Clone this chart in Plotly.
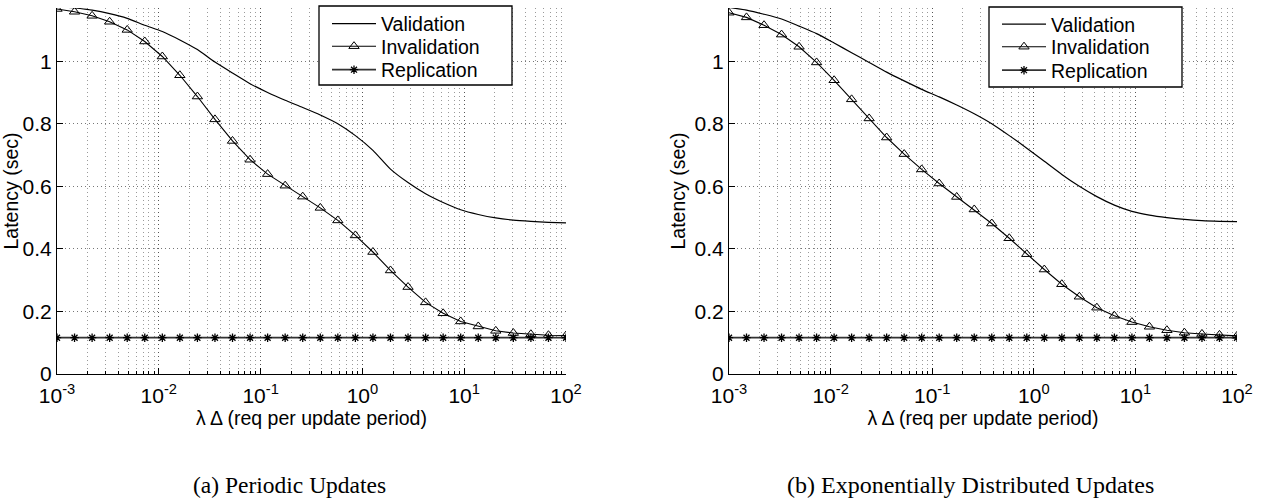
import plotly.graph_objects as go

# ---------------- data ----------------
x_req = [0.001, 0.001487, 0.002212, 0.00329, 0.004894, 0.007279, 0.01083, 0.0161,
         0.02395, 0.03562, 0.05298, 0.0788, 0.1172, 0.1743, 0.2593, 0.3857,
         0.5736, 0.8532, 1.269, 1.887, 2.807, 4.175, 6.21, 9.237, 13.74,
         20.43, 30.39, 45.2, 67.23, 100.0]

# (a) Periodic updates
val_a = [1.175, 1.170, 1.163, 1.152, 1.137, 1.115, 1.095, 1.068, 1.037, 0.997,
         0.962, 0.928, 0.900, 0.875, 0.852, 0.828, 0.800, 0.762, 0.715, 0.655,
         0.612, 0.576, 0.548, 0.525, 0.510, 0.499, 0.492, 0.488, 0.485, 0.483]
inv_a = [1.167, 1.158, 1.145, 1.126, 1.100, 1.063, 1.015, 0.955, 0.887, 0.814,
         0.745, 0.685, 0.639, 0.602, 0.567, 0.531, 0.491, 0.443, 0.390, 0.331,
         0.278, 0.229, 0.194, 0.168, 0.152, 0.138, 0.131, 0.127, 0.124, 0.123]
rep_a = [0.116] * 30

# (b) Exponentially distributed updates
val_b = [1.172, 1.163, 1.150, 1.135, 1.112, 1.088, 1.058, 1.027, 0.996, 0.965,
         0.937, 0.910, 0.886, 0.860, 0.832, 0.800, 0.762, 0.722, 0.680, 0.638,
         0.600, 0.567, 0.540, 0.520, 0.508, 0.500, 0.494, 0.490, 0.488, 0.487]
inv_b = [1.155, 1.140, 1.115, 1.085, 1.046, 0.996, 0.939, 0.878, 0.817, 0.756,
         0.703, 0.654, 0.609, 0.566, 0.526, 0.481, 0.434, 0.383, 0.334, 0.287,
         0.247, 0.212, 0.186, 0.166, 0.151, 0.140, 0.132, 0.128, 0.125, 0.122]
rep_b = [0.116] * 30

x_tick_vals = [0.001, 0.01, 0.1, 1, 10, 100]
x_tick_text = ["10<sup>-3</sup>", "10<sup>-2</sup>", "10<sup>-1</sup>",
               "10<sup>0</sup>", "10<sup>1</sup>", "10<sup>2</sup>"]
y_tick_vals = [0, 0.2, 0.4, 0.6, 0.8, 1.0]
y_tick_text = ["0", "0.2", "0.4", "0.6", "0.8", "1"]
minor_vals = [k * 10.0 ** d for d in range(-3, 2) for k in range(2, 10)]

series_names = ["Validation", "Invalidation", "Replication"]
captions = ["(a) Periodic Updates", "(b) Exponentially Distributed Updates"]
x_title = "λ Δ (req per update period)"
y_title = "Latency (sec)"

# ---------------- figure ----------------
W, H = 1265, 502
SANS = "Liberation Sans, Arial, Helvetica, sans-serif"
SERIF = "Liberation Serif, Times New Roman, serif"

fig = go.Figure()

panels = [
    (val_a, inv_a, rep_a, "x", "y", ["legend", "legend2", "legend3"]),
    (val_b, inv_b, rep_b, "x2", "y2", ["legend4", "legend5", "legend6"]),
]
for val, inv, rep, xa, ya, lgs in panels:
    fig.add_trace(go.Scatter(
        x=x_req, y=val, name=series_names[0], mode="lines",
        line=dict(color="black", width=1.2, shape="spline", smoothing=0.6),
        xaxis=xa, yaxis=ya, legend=lgs[0]))
    fig.add_trace(go.Scatter(
        x=x_req, y=inv, name=series_names[1], mode="lines+markers",
        line=dict(color="black", width=1.1),
        marker=dict(symbol="triangle-up-open", size=9, color="black",
                    line=dict(width=1, color="black")),
        xaxis=xa, yaxis=ya, legend=lgs[1]))
    fig.add_trace(go.Scatter(
        x=x_req, y=rep, name=series_names[2], mode="lines+markers",
        line=dict(color="#333333", width=1.8),
        marker=dict(symbol="asterisk-open", size=7, color="black",
                    line=dict(width=1.3, color="black")),
        xaxis=xa, yaxis=ya, legend=lgs[2]))

def xaxis_cfg(domain, anchor):
    return dict(
        type="log", domain=domain, anchor=anchor, range=[-3, 2],
        tickmode="array", tickvals=x_tick_vals, ticktext=x_tick_text,
        ticks="inside", ticklen=6, tickcolor="black", tickwidth=1,
        ticklabelstandoff=3,
        showline=True, linecolor="black", linewidth=1, mirror=False,
        showgrid=True, gridcolor="#555555", griddash="1px,3px", gridwidth=1,
        minor=dict(tickmode="array", tickvals=minor_vals, ticks="inside",
                   ticklen=3, tickcolor="black", showgrid=True,
                   gridcolor="#9a9a9a", griddash="1px,3px", gridwidth=1),
        zeroline=False, automargin=True,
        tickfont=dict(family=SANS, size=21, color="black"),
        title=dict(text=x_title, font=dict(family=SANS, size=19.5, color="black"),
                   standoff=0),
    )

def yaxis_cfg(domain, anchor):
    return dict(
        domain=domain, anchor=anchor, range=[0, 1.17],
        tickmode="array", tickvals=y_tick_vals, ticktext=y_tick_text,
        ticks="inside", ticklen=6, tickcolor="black", tickwidth=1,
        showline=True, linecolor="black", linewidth=1, mirror=False,
        showgrid=True, gridcolor="#777777", griddash="1px,3px", gridwidth=1,
        zeroline=False, automargin=True,
        tickfont=dict(family=SANS, size=21, color="black"),
        title=dict(text=y_title, font=dict(family=SANS, size=19.5, color="black"),
                   standoff=3),
    )

ydom = [128 / H, 1 - 8 / H]
fig.update_layout(
    width=W, height=H,
    margin=dict(l=0, r=0, t=0, b=0, autoexpand=False),
    paper_bgcolor="white", plot_bgcolor="white",
    showlegend=True,
    xaxis=xaxis_cfg([57 / W, 566 / W], "y"),
    yaxis=yaxis_cfg(ydom, "x"),
    xaxis2=xaxis_cfg([729 / W, 1237 / W], "y2"),
    yaxis2=yaxis_cfg(ydom, "x2"),
)

# legend frames (px): left, top, right, bottom
legend_boxes = [(319, 6, 512, 85), (989, 7, 1182, 87)]
for (x0, y0, x1, y1) in legend_boxes:
    fig.add_shape(type="rect", xref="paper", yref="paper",
                  x0=x0 / W, x1=x1 / W, y0=1 - y0 / H, y1=1 - y1 / H,
                  line=dict(color="black", width=1.3), fillcolor="white",
                  layer="above")

legend_common = dict(
    bgcolor="rgba(0,0,0,0)", borderwidth=0,
    font=dict(family=SANS, size=19.5, color="black"),
    xanchor="left", yanchor="middle", itemwidth=44,
    itemclick=False, itemdoubleclick=False,
)
row_y = [[24, 46.5, 70], [24.5, 47, 70.5]]
legend_left = [327, 997]
layout_legends = {}
names = [["legend", "legend2", "legend3"], ["legend4", "legend5", "legend6"]]
for p in range(2):
    for r in range(3):
        layout_legends[names[p][r]] = dict(x=legend_left[p] / W,
                                           y=1 - row_y[p][r] / H,
                                           **legend_common)
fig.update_layout(**layout_legends)

fig.add_annotation(text=captions[0], x=289 / W, y=1 - 485 / H, xref="paper",
                   yref="paper", showarrow=False, xanchor="center", yanchor="middle",
                   font=dict(family=SERIF, size=23.5, color="black"))
fig.add_annotation(text=captions[1], x=970 / W, y=1 - 485 / H, xref="paper",
                   yref="paper", showarrow=False, xanchor="center", yanchor="middle",
                   font=dict(family=SERIF, size=24, color="black"))

fig.write_html("out.html")
